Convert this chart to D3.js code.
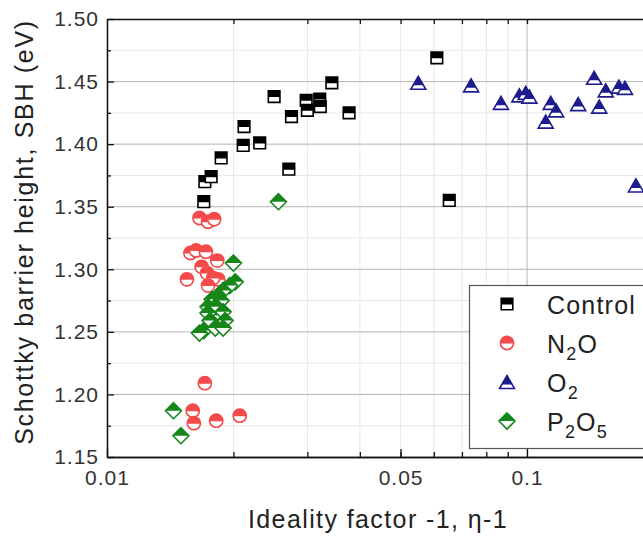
<!DOCTYPE html>
<meta charset='utf-8'>
<style>
  body { margin:0; background:#fff; }
  svg { display:block; overflow:hidden; }
  text { font-family:'Liberation Sans', Arial, sans-serif; fill:#222; }
  .axis path, .axis line { stroke:#111; stroke-width:1.3px; }
  .axis text { font-size:21px; letter-spacing:1px; fill:#333; font-family:'Liberation Sans', Arial, sans-serif; }
  .grid-major { stroke:#b4b4b4; stroke-width:1px; }
  .grid-minor { stroke:#e8e8e8; stroke-width:1px; }
</style>
<body>
<script src='https://cdn.jsdelivr.net/npm/d3@7/dist/d3.min.js'></script>
<script>
// data
var controlX = [0.0170, 0.0171, 0.0177, 0.0187, 0.0211, 0.0212, 0.0231, 0.0250, 0.0271, 0.0275, 0.0298, 0.0300, 0.0321, 0.0322, 0.0343, 0.0377, 0.0610, 0.0653];
var controlY = [1.354, 1.370, 1.374, 1.389, 1.399, 1.414, 1.401, 1.438, 1.380, 1.422, 1.435, 1.427, 1.436, 1.430, 1.449, 1.425, 1.469, 1.355];

var n2oX = [0.0166, 0.0174, 0.0180, 0.0158, 0.0163, 0.0172, 0.0183, 0.0168, 0.0173, 0.0155, 0.0184, 0.0179, 0.0174, 0.0171, 0.0160, 0.0161, 0.0182, 0.0207];
var n2oY = [1.341, 1.338, 1.340, 1.313, 1.315, 1.314, 1.307, 1.302, 1.297, 1.292, 1.292, 1.293, 1.287, 1.209, 1.187, 1.177, 1.179, 1.183];

var o2X = [0.0551, 0.0736, 0.0867, 0.0959, 0.0993, 0.1013, 0.1108, 0.1139, 0.1173, 0.1324, 0.1445, 0.1486, 0.1540, 0.1655, 0.1711, 0.1817];
var o2Y = [1.449, 1.447, 1.433, 1.439, 1.441, 1.438, 1.418, 1.433, 1.427, 1.432, 1.453, 1.430, 1.443, 1.446, 1.445, 1.367];

var p2o5X = [0.0256, 0.0200, 0.0202, 0.0196, 0.0189, 0.0184, 0.0178, 0.0187, 0.0174, 0.0182, 0.0189, 0.0174, 0.0191, 0.0176, 0.0170, 0.0166, 0.0181, 0.0189, 0.0144, 0.0150];
var p2o5Y = [1.354, 1.305, 1.290, 1.287, 1.283, 1.279, 1.276, 1.275, 1.270, 1.270, 1.266, 1.265, 1.259, 1.259, 1.251, 1.249, 1.253, 1.253, 1.187, 1.167];

var xLabelTicks = [0.01, 0.05, 0.1];
var xMinorTicks = [0.02, 0.03, 0.04, 0.05, 0.06, 0.07, 0.08, 0.09];
var yTicks = [1.15, 1.20, 1.25, 1.30, 1.35, 1.40, 1.45, 1.50];
var yMinorTicks = [1.175, 1.225, 1.275, 1.325, 1.375, 1.425, 1.475];

var series = [
  {name:'Control', sub:null, xs:controlX, ys:controlY, shape:'square', color:'#000000'},
  {name:'N2O', sub:['N','2','O'], xs:n2oX, ys:n2oY, shape:'circle', color:'#f44a4a'},
  {name:'O2', sub:['O','2'], xs:o2X, ys:o2Y, shape:'triangle', color:'#1c1c8e'},
  {name:'P2O5', sub:['P','2','O','5'], xs:p2o5X, ys:p2o5Y, shape:'diamond', color:'#17861a'}
];

var width = 643, height = 541;
var plotLeft = 107, plotTop = 19, plotBottom = 457;

var x = d3.scaleLog().domain([0.01, 0.25]).range([plotLeft, plotLeft + 420 * Math.log10(25)]);
var y = d3.scaleLinear().domain([1.15, 1.50]).range([plotBottom, plotTop]);

var svg = d3.select('body').append('svg')
  .attr('width', width)
  .attr('height', height);

var shapes = {
  square: 'M-5.8,-5.8H5.8V5.8H-5.8Z',
  circle: d3.symbol().type(d3.symbolCircle).size(Math.PI * 6.6 * 6.6)(),
  triangle: 'M0,-6.5L7.5,6.5L-7.5,6.5Z',
  diamond: 'M0,-8L8,0L0,8L-8,0Z'
};
var fillCut = {square:0.5, circle:0.5, triangle:2.5, diamond:0};

var defs = svg.append('defs');
Object.keys(fillCut).forEach(function(k) {
  defs.append('clipPath').attr('id', 'top-' + k)
    .append('rect').attr('x', -20).attr('y', -20).attr('width', 40).attr('height', 20 + fillCut[k]);
});

// grid -----------------------------------------------------------------
var grid = svg.append('g');
grid.selectAll('.vmin').data(xMinorTicks).enter().append('line')
  .attr('class', 'grid-minor')
  .attr('x1', function(d) { return x(d); }).attr('x2', function(d) { return x(d); })
  .attr('y1', plotTop).attr('y2', plotBottom);
grid.selectAll('.hmin').data(yMinorTicks).enter().append('line')
  .attr('class', 'grid-minor')
  .attr('x1', plotLeft).attr('x2', width)
  .attr('y1', function(d) { return y(d); }).attr('y2', function(d) { return y(d); });
grid.selectAll('.hmaj').data(yTicks.slice(1, -1)).enter().append('line')
  .attr('class', 'grid-major')
  .attr('x1', plotLeft).attr('x2', width)
  .attr('y1', function(d) { return y(d); }).attr('y2', function(d) { return y(d); });
grid.append('line')
  .attr('class', 'grid-major')
  .attr('x1', x(0.1)).attr('x2', x(0.1))
  .attr('y1', plotTop).attr('y2', plotBottom);

// axes -----------------------------------------------------------------
svg.append('g').attr('class', 'axis')
  .attr('transform', 'translate(0,' + plotBottom + ')')
  .call(d3.axisBottom(x).tickValues(xMinorTicks).tickSize(-5).tickSizeOuter(0).tickFormat(''));
svg.append('g').attr('class', 'axis')
  .attr('transform', 'translate(0,' + plotBottom + ')')
  .call(d3.axisBottom(x).tickValues(xLabelTicks).tickSize(-8).tickSizeOuter(0).tickPadding(13)
    .tickFormat(function(d) { return String(d); }));
svg.append('g').attr('class', 'axis')
  .attr('transform', 'translate(0,' + plotTop + ')')
  .call(d3.axisTop(x).tickValues(xMinorTicks.concat([0.1])).tickSize(-5).tickSizeOuter(0).tickFormat(''));
svg.append('g').attr('class', 'axis')
  .attr('transform', 'translate(' + plotLeft + ',0)')
  .call(d3.axisLeft(y).tickValues(yMinorTicks).tickSize(-4).tickSizeOuter(0).tickFormat(''));
svg.append('g').attr('class', 'axis')
  .attr('transform', 'translate(' + plotLeft + ',0)')
  .call(d3.axisLeft(y).tickValues(yTicks).tickSize(-7).tickSizeOuter(0).tickPadding(8).tickFormat(d3.format('.2f')));

// markers --------------------------------------------------------------
function drawMarker(g, shape, color) {
  g.append('path').attr('d', shapes[shape])
    .attr('fill', '#fff').attr('stroke', color).attr('stroke-width', 1.6);
  g.append('path').attr('d', shapes[shape])
    .attr('fill', color).attr('clip-path', 'url(#top-' + shape + ')');
}

series.forEach(function(s) {
  s.xs.forEach(function(xv, i) {
    var g = svg.append('g').attr('transform', 'translate(' + x(xv) + ',' + y(s.ys[i]) + ')');
    drawMarker(g, s.shape, s.color);
  });
});

// legend ---------------------------------------------------------------
var legend = svg.append('g');
legend.append('rect')
  .attr('x', 469.5).attr('y', 285.5).attr('width', 220).attr('height', 163)
  .attr('fill', '#fff').attr('stroke', '#555').attr('stroke-width', 1.2);
series.forEach(function(s, i) {
  var cy = 304 + i * 39;
  var g = legend.append('g').attr('transform', 'translate(507,' + cy + ')');
  drawMarker(g, s.shape, s.color);
  var t = legend.append('text')
    .attr('x', 547).attr('y', cy + 10)
    .style('font-size', '25px').style('letter-spacing', '1.2px');
  if (!s.sub) { t.text(s.name); return; }
  s.sub.forEach(function(part, j) {
    var isSub = j % 2 === 1;
    t.append('tspan').text(part)
      .style('font-size', isSub ? '18px' : '25px')
      .attr('dy', isSub ? 7 : (j > 0 ? -7 : 0));
  });
});

// titles ---------------------------------------------------------------
svg.append('text')
  .attr('x', 378).attr('y', 528)
  .attr('text-anchor', 'middle')
  .style('font-size', '25px').style('letter-spacing', '1.4px')
  .text('Ideality factor -1, \u03b7-1');
svg.append('text')
  .attr('transform', 'translate(33,232) rotate(-90)')
  .attr('text-anchor', 'middle')
  .style('font-size', '25px').style('letter-spacing', '1.7px')
  .text('Schottky barrier height, SBH (eV)');
</script>
</body>
